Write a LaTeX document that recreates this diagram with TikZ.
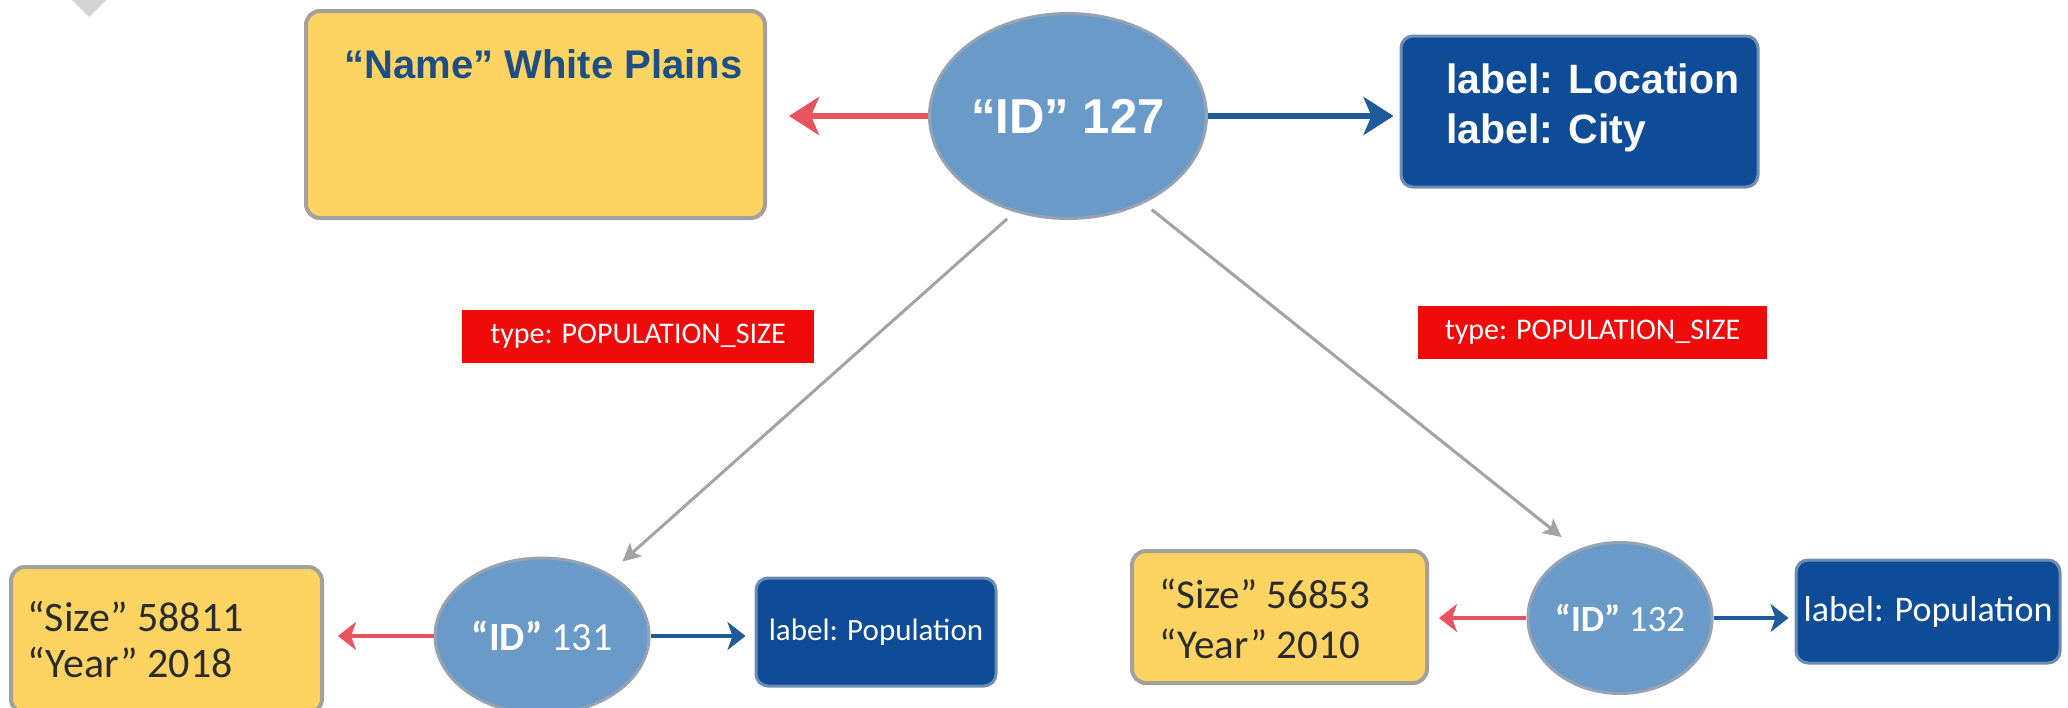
\documentclass[tikz,border=0pt]{standalone}
\usepackage{fontspec}
\setmainfont{Liberation Sans}
\newfontfamily\calfont{Carlito}
\usetikzlibrary{shapes.geometric,arrows.meta}
\definecolor{ylw}{HTML}{FDD462}
\definecolor{ybord}{HTML}{A5A09A}
\definecolor{nameblue}{HTML}{1D4E86}
\definecolor{ellfill}{HTML}{6A9AC8}
\definecolor{ellbord}{HTML}{95A3B3}
\definecolor{dblue}{HTML}{0F4C97}
\definecolor{dbord}{HTML}{6E8DB5}
\definecolor{redarr}{HTML}{E8545E}
\definecolor{bluearr}{HTML}{1F5A99}
\definecolor{lblred}{HTML}{F00A0A}
\definecolor{grayarr}{HTML}{A3A3A3}
\definecolor{darktext}{HTML}{2B2B2B}
\definecolor{trigray}{HTML}{D4D4D4}
\tikzset{
  ybox/.style={draw=ybord, line width=4pt, fill=ylw, rounded corners=14pt, inner sep=0pt},
  bbox/.style={draw=dbord, line width=3pt, fill=dblue, rounded corners=12pt, inner sep=0pt, text=white},
  ell/.style={ellipse, draw=ellbord, line width=3pt, fill=ellfill, inner sep=0pt, text=white},
  redlbl/.style={fill=lblred, inner sep=0pt, text=white, font=\calfont\fontsize{30pt}{36pt}\selectfont},
  bigred/.style={draw=redarr, line width=6pt, -{Stealth[length=30pt,width=38pt,inset=8pt]}},
  bigblue/.style={draw=bluearr, line width=6pt, -{Stealth[length=30pt,width=38pt,inset=8pt]}},
  smallred/.style={draw=redarr, line width=4pt, -{Stealth[length=18pt,width=28pt,inset=5pt]}},
  smallblue/.style={draw=bluearr, line width=4pt, -{Stealth[length=18pt,width=28pt,inset=5pt]}},
  grayedge/.style={draw=grayarr, line width=3pt, -{Stealth[length=18pt,width=18pt,inset=4pt]}},
}
\begin{document}
\begin{tikzpicture}[x=1pt,y=-1pt]
\useasboundingbox (0,0) rectangle (2068,707);
% partial gray shape at top-left
\fill[trigray] (72,0) -- (106,0) -- (89,17) -- cycle;

% top row
\node[ybox, minimum width=459pt, minimum height=207pt] (name) at (535.5,114.5) {};
\node[text=nameblue, font=\bfseries\fontsize{40pt}{48pt}\selectfont, inner sep=0pt] (nametxt) at (543.5,64) {“Name” White Plains};
\node[ell, minimum width=277pt, minimum height=205pt, font=\bfseries\fontsize{49pt}{58pt}\selectfont] (e127) at (1068,116) {“ID” 127};
\node[bbox, minimum width=357pt, minimum height=151pt] (loc) at (1579.5,111.5) {};
\node[text=white, font=\bfseries\fontsize{41pt}{50pt}\selectfont, align=left, anchor=west, inner sep=0pt] (loctxt) at (1446,108) {label: Location\\label: City};

\draw[bigred, shorten >=22pt] (e127.west) -- (e127.west -| name.east);
\draw[bigblue, shorten >=6pt] (e127.east) -- (e127.east -| loc.west);

% edge labels
\node[redlbl, minimum width=352pt, minimum height=53pt] (t1) at (638,336.5) {type: POPULATION\_SIZE};
\node[redlbl, minimum width=349pt, minimum height=53pt] (t2) at (1592.5,332.5) {type: POPULATION\_SIZE};

% bottom left
\node[ybox, minimum width=311pt, minimum height=146pt] (s1) at (166.5,640) {};
\node[text=darktext, font=\calfont\fontsize{42pt}{46pt}\selectfont, align=left, anchor=west, inner sep=0pt] (s1txt) at (27,639) {“Size” 58811\\“Year” 2018};
\node[ell, minimum width=214pt, minimum height=156pt, font=\calfont\fontsize{40pt}{48pt}\selectfont] (e131) at (542,636) {\textbf{“ID”} 131};
\node[bbox, minimum width=240pt, minimum height=108pt, font=\calfont\fontsize{31pt}{36pt}\selectfont] (p1) at (876,632) {label: Population};

\draw[smallred, shorten >=14pt] (e131.west) -- (e131.west -| s1.east);
\draw[smallblue, shorten >=9pt] (e131.east) -- (e131.east -| p1.west);

% bottom right
\node[ybox, minimum width=295pt, minimum height=132pt] (s2) at (1279.5,617) {};
\node[text=darktext, font=\calfont\fontsize{41pt}{50pt}\selectfont, align=left, anchor=west, inner sep=0pt] (s2txt) at (1159,619) {“Size” 56853\\“Year” 2010};
\node[ell, minimum width=179pt, minimum height=151pt, font=\calfont\fontsize{37pt}{44pt}\selectfont] (e132) at (1620,618) {\textbf{“ID”} 132};
\node[bbox, minimum width=264pt, minimum height=103pt, font=\calfont\fontsize{36pt}{42pt}\selectfont] (p2) at (1928,611.5) {label: Population};

\draw[smallred, shorten >=10pt] (e132.west) -- (e132.west -| s2.east);
\draw[smallblue, shorten >=6pt] (e132.east) -- (e132.east -| p2.west);

% relationships
\draw[grayedge, shorten <=10pt, shorten >=18pt] (e127.241) -- (e131.43);
\draw[grayedge, shorten <=10pt, shorten >=20pt] (e127.311) -- (e132.122);
\end{tikzpicture}
\end{document}
